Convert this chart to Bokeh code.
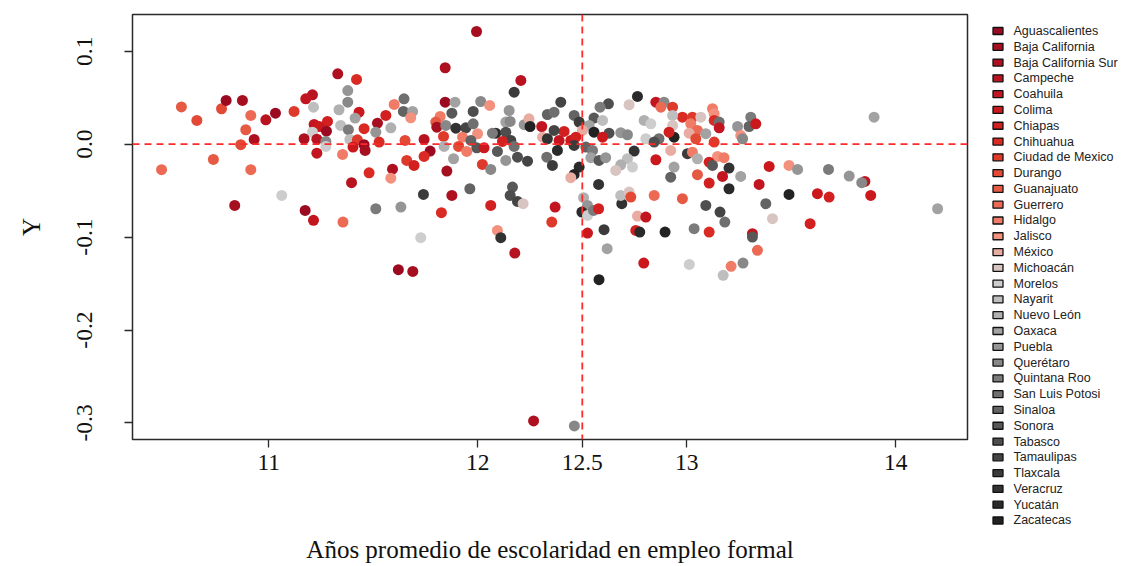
from bokeh.plotting import figure
from bokeh.models import Range1d, FixedTicker, Span, ColumnDataSource
from bokeh.layouts import row
from bokeh.core.properties import value
from bokeh.embed import file_html
from bokeh.resources import INLINE

# --- state names, codes and palette (reds -> greys) ---
ESTADOS = [
    "Aguascalientes", "Baja California", "Baja California Sur", "Campeche",
    "Coahuila", "Colima", "Chiapas", "Chihuahua", "Ciudad de Mexico",
    "Durango", "Guanajuato", "Guerrero", "Hidalgo", "Jalisco", "México",
    "Michoacán", "Morelos", "Nayarit", "Nuevo León", "Oaxaca", "Puebla",
    "Querétaro", "Quintana Roo", "San Luis Potosi", "Sinaloa", "Sonora",
    "Tabasco", "Tamaulipas", "Tlaxcala", "Veracruz", "Yucatán", "Zacatecas",
]
CODIGOS = [
    "AGS", "BC", "BCS", "CAM", "COAH", "COL", "CHIS", "CHIH", "CDMX", "DGO",
    "GTO", "GRO", "HGO", "JAL", "MEX", "MICH", "MOR", "NAY", "NL", "OAX",
    "PUE", "QRO", "QROO", "SLP", "SIN", "SON", "TAB", "TAMS", "TLAX", "VER",
    "YUC", "ZAC",
]
COLORES = [
    "#9b0a21", "#a50f1f", "#ae1020", "#b81320", "#c2151f", "#cb181d",
    "#d21f1f", "#d92b24", "#de3a2c", "#e24a36", "#e65a44", "#ec6a54",
    "#f07c68", "#f4907e", "#e8aca2", "#d8c4c0", "#cdcdcd", "#bebebe",
    "#b0b0b0", "#a2a2a2", "#959595", "#888888", "#7b7b7b", "#6f6f6f",
    "#636363", "#585858", "#4e4e4e", "#444444", "#3b3b3b", "#323232",
    "#2a2a2a", "#222222",
]

X_TICKS = [11, 12, 12.5, 13, 14]
X_TICK_LABELS = ["11", "12", "12.5", "13", "14"]
Y_TICKS = [0.1, 0.0, -0.1, -0.2, -0.3]
Y_TICK_LABELS = ["0.1", "0.0", "-0.1", "-0.2", "-0.3"]
X_REF = 12.5
Y_REF = 0.0

# --- observations: state, average schooling years (formal jobs), Y ---
estado = [
    "GTO", "DGO", "GRO", "GTO", "DGO", "AGS", "BC", "GRO", "GTO", "DGO",
    "BCS", "GRO", "CAM", "AGS", "BC", "MOR", "BCS", "CHIH", "PUE", "QRO",
    "CAM", "COAH", "NAY", "CDMX", "NL", "COL", "OAX", "CHIS", "COAH", "COL",
    "MOR", "AGS", "NAY", "QROO", "CHIH", "BC", "PUE", "CHIS", "HGO", "NL",
    "SLP", "SIN", "OAX", "JAL", "BCS", "CAM", "QRO", "MOR", "COAH", "NAY",
    "CDMX", "COL", "AGS", "BC", "CHIH", "DGO", "CDMX", "CHIS", "HGO", "CHIH",
    "BCS", "JAL", "CAM", "AGS", "COAH", "GRO", "QROO", "PUE", "BC", "BCS",
    "CAM", "TLAX", "AGS", "OAX", "QRO", "JAL", "SON", "TAB", "PUE", "HGO",
    "GTO", "BC", "QRO", "VER", "TAMS", "SLP", "JAL", "HGO", "CDMX", "SIN",
    "SON", "YUC", "QROO", "OAX", "QRO", "TAB", "TAMS", "SLP", "CHIS", "PUE",
    "MEX", "ZAC", "COAH", "MEX", "SIN", "CAM", "AGS", "CHIH", "NL", "DGO",
    "HGO", "COL", "SON", "OAX", "PUE", "TAB", "TAMS", "CDMX", "QRO", "BC",
    "SLP", "TLAX", "BCS", "SIN", "SON", "TAB", "TAMS", "MICH", "CHIS", "CHIH",
    "JAL", "VER", "MOR", "CAM", "AGS", "BC", "BCS", "QRO", "YUC", "MICH",
    "TAB", "QROO", "TAMS", "SLP", "SIN", "SON", "NAY", "OAX", "TLAX", "MEX",
    "ZAC", "TAB", "PUE", "QRO", "COL", "CHIS", "TAMS", "COAH", "COL", "CHIS",
    "VER", "YUC", "TLAX", "SIN", "QROO", "OAX", "SON", "PUE", "MOR", "VER",
    "COAH", "QRO", "GRO", "CDMX", "CHIH", "NL", "MOR", "NAY", "MICH", "ZAC",
    "CHIS", "SLP", "TAB", "MEX", "COL", "NAY", "NL", "MOR", "MICH", "OAX",
    "SIN", "TLAX", "YUC", "ZAC", "MEX", "VER", "COAH", "CDMX", "NL", "PUE",
    "YUC", "MOR", "QROO", "CHIS", "COL", "TLAX", "OAX", "ZAC", "VER", "NAY",
    "MICH", "DGO", "MEX", "COAH", "CHIS", "YUC", "COL", "ZAC", "GRO", "GTO",
    "HGO", "JAL", "CDMX", "MICH", "CHIH", "SLP", "COAH", "PUE", "QROO", "SIN",
    "COL", "HGO", "GRO", "MEX", "OAX", "DGO", "CDMX", "JAL", "QRO", "TLAX",
    "HGO", "NL", "JAL", "HGO", "CHIS", "SON", "VER", "COAH", "OAX", "COL",
    "JAL", "PUE", "GTO", "CHIS", "YUC", "COAH", "ZAC", "COL", "TAB", "TAMS",
    "SLP", "SIN", "MICH", "CHIS", "QROO", "CHIH", "COAH", "SON", "MOR", "NAY",
    "HGO", "QRO", "GRO", "OAX", "QROO", "PUE", "COAH", "QRO", "CHIS", "COL",
    "OAX",
]
escolaridad = [
    10.582, 10.656, 10.487, 10.735, 10.774, 10.796, 10.874, 10.914, 10.890, 10.866,
    10.930, 10.914, 10.986, 11.032, 10.837, 11.062, 11.330, 11.420, 11.378, 11.378,
    11.209, 11.177, 11.214, 11.121, 11.336, 11.432, 11.413, 11.281, 11.217, 11.241,
    11.209, 11.276, 11.344, 11.381, 11.456, 11.520, 11.512, 11.560, 11.600, 11.584,
    11.647, 11.644, 11.688, 11.679, 11.169, 11.230, 11.273, 11.273, 11.230, 11.388,
    11.424, 11.403, 11.456, 11.461, 11.528, 11.652, 11.660, 11.695, 11.353, 11.480,
    11.592, 11.584, 11.396, 11.174, 11.214, 11.355, 11.512, 11.632, 11.994, 11.844,
    12.206, 12.174, 11.844, 11.891, 12.014, 12.057, 11.876, 11.978, 12.150, 11.820,
    11.799, 11.804, 11.847, 11.895, 11.943, 11.978, 11.999, 11.927, 11.836, 11.967,
    11.995, 12.086, 12.070, 12.134, 12.155, 12.134, 12.158, 12.174, 12.118, 12.222,
    12.245, 12.250, 12.306, 12.310, 12.333, 11.743, 11.772, 11.743, 11.839, 11.908,
    11.947, 12.030, 12.094, 11.884, 12.134, 12.190, 12.238, 12.022, 12.062, 11.852,
    12.330, 11.740, 11.876, 11.962, 12.166, 12.155, 12.190, 12.217, 12.062, 11.826,
    12.094, 12.110, 11.727, 12.177, 11.620, 11.689, 12.267, 12.462, 12.764, 12.724,
    12.625, 12.585, 12.397, 12.365, 12.461, 12.556, 12.597, 12.533, 12.485, 12.501,
    12.556, 12.628, 12.684, 12.716, 12.597, 12.413, 12.365, 12.389, 12.445, 12.469,
    12.333, 12.381, 12.461, 12.517, 12.549, 12.541, 12.580, 12.612, 12.804, 12.748,
    12.852, 12.891, 12.876, 12.932, 12.979, 12.796, 12.828, 12.932, 12.932, 12.939,
    12.915, 12.867, 12.844, 12.923, 12.852, 12.716, 12.684, 12.740, 12.660, 12.939,
    12.923, 12.357, 12.485, 12.461, 12.445, 12.578, 12.370, 12.354, 12.506, 12.525,
    12.498, 12.525, 12.554, 12.578, 12.525, 12.604, 12.619, 12.580, 12.689, 12.684,
    12.724, 12.732, 12.764, 12.804, 12.756, 12.775, 12.794, 12.896, 12.844, 12.979,
    13.123, 13.131, 13.027, 13.067, 13.131, 13.155, 13.155, 13.243, 13.306, 13.298,
    13.330, 13.019, 13.051, 13.011, 13.091, 13.043, 13.131, 13.258, 13.267, 13.003,
    13.027, 13.051, 13.147, 13.178, 13.107, 13.123, 13.202, 13.171, 13.258, 13.394,
    13.489, 13.530, 13.051, 13.107, 13.202, 13.346, 13.489, 13.625, 13.091, 13.159,
    13.182, 13.378, 13.410, 13.590, 13.035, 13.107, 13.314, 13.314, 13.012, 13.174,
    13.212, 13.269, 13.338, 13.896, 13.678, 13.777, 13.852, 13.837, 13.681, 13.880,
    14.200,
]
valor_y = [
    0.0400, 0.0255, -0.0275, -0.0165, 0.0381, 0.0470, 0.0470, 0.0309, 0.0155, -0.0006,
    0.0051, -0.0275, 0.0262, 0.0333, -0.0659, -0.0552, 0.0757, 0.0696, 0.0577, 0.0452,
    0.0531, 0.0488, 0.0398, 0.0352, 0.0370, 0.0344, 0.0280, 0.0244, 0.0212, 0.0190,
    0.0129, 0.0140, 0.0201, 0.0155, 0.0166, 0.0226, 0.0129, 0.0309, 0.0427, 0.0176,
    0.0488, 0.0352, 0.0352, 0.0284, 0.0058, 0.0054, 0.0029, -0.0025, -0.0097, 0.0051,
    0.0047, -0.0032, -0.0006, -0.0068, 0.0022, 0.0040, -0.0175, -0.0229, -0.0111, -0.0308,
    -0.0269, -0.0366, -0.0415, -0.0713, -0.0820, -0.0839, -0.0695, -0.0677, 0.1212, 0.0822,
    0.0685, 0.0559, 0.0452, 0.0452, 0.0459, 0.0416, 0.0333, 0.0352, 0.0362, 0.0298,
    0.0237, 0.0183, 0.0201, 0.0172, 0.0176, 0.0219, 0.0112, 0.0075, 0.0083, 0.0040,
    -0.0039, 0.0118, 0.0118, 0.0237, 0.0244, 0.0129, 0.0040, -0.0025, 0.0029, 0.0209,
    0.0273, 0.0190, 0.0190, 0.0075, 0.0319, 0.0051, -0.0075, -0.0132, -0.0025, -0.0025,
    -0.0078, -0.0039, -0.0078, -0.0157, -0.0175, -0.0140, -0.0183, -0.0218, -0.0272, -0.0290,
    -0.0140, -0.0541, -0.0552, -0.0480, -0.0462, -0.0552, -0.0616, -0.0641, -0.0659, -0.0738,
    -0.0928, -0.1006, -0.1006, -0.1172, -0.1351, -0.1369, -0.2978, -0.3032, 0.0513, 0.0424,
    0.0434, 0.0398, 0.0452, 0.0344, 0.0309, 0.0280, 0.0255, 0.0201, 0.0237, 0.0147,
    0.0129, 0.0118, 0.0123, 0.0101, 0.0075, 0.0137, 0.0147, 0.0040, 0.0040, 0.0075,
    0.0058, -0.0068, -0.0014, -0.0032, -0.0068, -0.0146, -0.0175, -0.0146, 0.0058, -0.0075,
    0.0452, 0.0452, 0.0398, 0.0398, 0.0290, 0.0255, 0.0219, 0.0309, 0.0201, 0.0075,
    0.0129, 0.0058, 0.0022, -0.0068, -0.0168, -0.0157, -0.0222, -0.0247, -0.0283, -0.0247,
    -0.0355, -0.0229, -0.0247, -0.0326, -0.0361, -0.0433, -0.0677, -0.0839, -0.0576, -0.0659,
    -0.0731, -0.0767, -0.0713, -0.0695, -0.0957, -0.0920, -0.1125, -0.1458, -0.0641, -0.0552,
    -0.0516, -0.0570, -0.0774, -0.0785, -0.0928, -0.0946, -0.1280, -0.0946, -0.0552, -0.0587,
    0.0381, 0.0327, 0.0290, 0.0290, 0.0255, 0.0237, 0.0176, 0.0190, 0.0290, 0.0190,
    0.0219, 0.0219, 0.0147, 0.0118, 0.0112, 0.0058, 0.0022, 0.0094, 0.0058, -0.0103,
    -0.0086, -0.0157, -0.0132, -0.0146, -0.0194, -0.0229, -0.0258, -0.0347, -0.0347, -0.0240,
    -0.0229, -0.0272, -0.0329, -0.0419, -0.0480, -0.0433, -0.0541, -0.0533, -0.0659, -0.0731,
    -0.0839, -0.0641, -0.0802, -0.0856, -0.0910, -0.0946, -0.0963, -0.1000, -0.1294, -0.1412,
    -0.1315, -0.1280, -0.1143, 0.0290, -0.0272, -0.0344, -0.0401, -0.0415, -0.0570, -0.0552,
    -0.0695,
]

SERIF = "Liberation Serif"
SANS = "Liberation Sans"

color_de = dict(zip(CODIGOS, COLORES))
src = ColumnDataSource(dict(
    x=escolaridad,
    y=valor_y,
    estado=estado,
    color=[color_de[c] for c in estado],
))

# --- main scatter panel ---
p = figure(
    width=975, height=566,
    x_range=Range1d(10.348, 14.343), y_range=Range1d(-0.3178, 0.1395),
    output_backend="svg", toolbar_location=None,
    min_border_left=132, min_border_right=8,
    min_border_top=14, min_border_bottom=127,
)
p.frame_align = False
p.grid.visible = False
p.background_fill_color = "white"
p.border_fill_color = "white"
p.outline_line_color = "#2a2a2a"
p.outline_line_width = 1.5

p.scatter("x", "y", source=src, size=11, fill_color="color",
          line_color=None, marker="circle")

for loc, dim in ((Y_REF, "width"), (X_REF, "height")):
    p.add_layout(Span(location=loc, dimension=dim, line_color="#ff2a2a",
                      line_width=1.8, line_dash="7 5"))

xa = p.xaxis[0]
xa.ticker = FixedTicker(ticks=X_TICKS)
xa.major_label_overrides = dict(zip(X_TICKS, X_TICK_LABELS))
xa.axis_label = "Años promedio de escolaridad en empleo formal"

ya = p.yaxis[0]
ya.ticker = FixedTicker(ticks=Y_TICKS)
ya.major_label_overrides = dict(zip(Y_TICKS, Y_TICK_LABELS))
ya.axis_label = "Y"
ya.major_label_orientation = "vertical"

for ax in (xa, ya):
    ax.axis_line_color = None
    ax.minor_tick_line_color = None
    ax.major_tick_in = 0
    ax.major_tick_out = 8
    ax.major_tick_line_color = "#2a2a2a"
    ax.major_tick_line_width = 1.3
    ax.major_label_text_font = SERIF
    ax.major_label_text_font_size = "23.5px"
    ax.major_label_text_color = "#111111"
    ax.axis_label_text_font = SERIF
    ax.axis_label_text_font_size = "25px"
    ax.axis_label_text_font_style = "normal"
    ax.axis_label_text_color = "#111111"

xa.major_label_standoff = 7
xa.axis_label_standoff = 63
ya.major_label_standoff = 32
ya.axis_label_standoff = 30

# --- legend panel ---
leg = figure(
    width=147, height=566,
    x_range=Range1d(0, 147), y_range=Range1d(566, 0),
    output_backend="svg", toolbar_location=None,
    min_border=0, x_axis_location=None, y_axis_location=None,
)
leg.frame_align = False
leg.grid.visible = False
leg.outline_line_color = None

fila_y = [30.5 + i * 15.79 for i in range(len(ESTADOS))]
leg_src = ColumnDataSource(dict(y=fila_y, nombre=ESTADOS, color=COLORES))
leg.rect(x=22.5, y="y", width=10, height=7, source=leg_src,
         fill_color="color", line_color="#111111", line_width=1.3)
leg.text(x=38, y="y", text="nombre", source=leg_src,
         text_font=value(SANS), text_font_size="12.5px",
         text_baseline="middle", text_color="#222222")

layout = row(p, leg)
open("out.html", "w").write(file_html(layout, INLINE))
